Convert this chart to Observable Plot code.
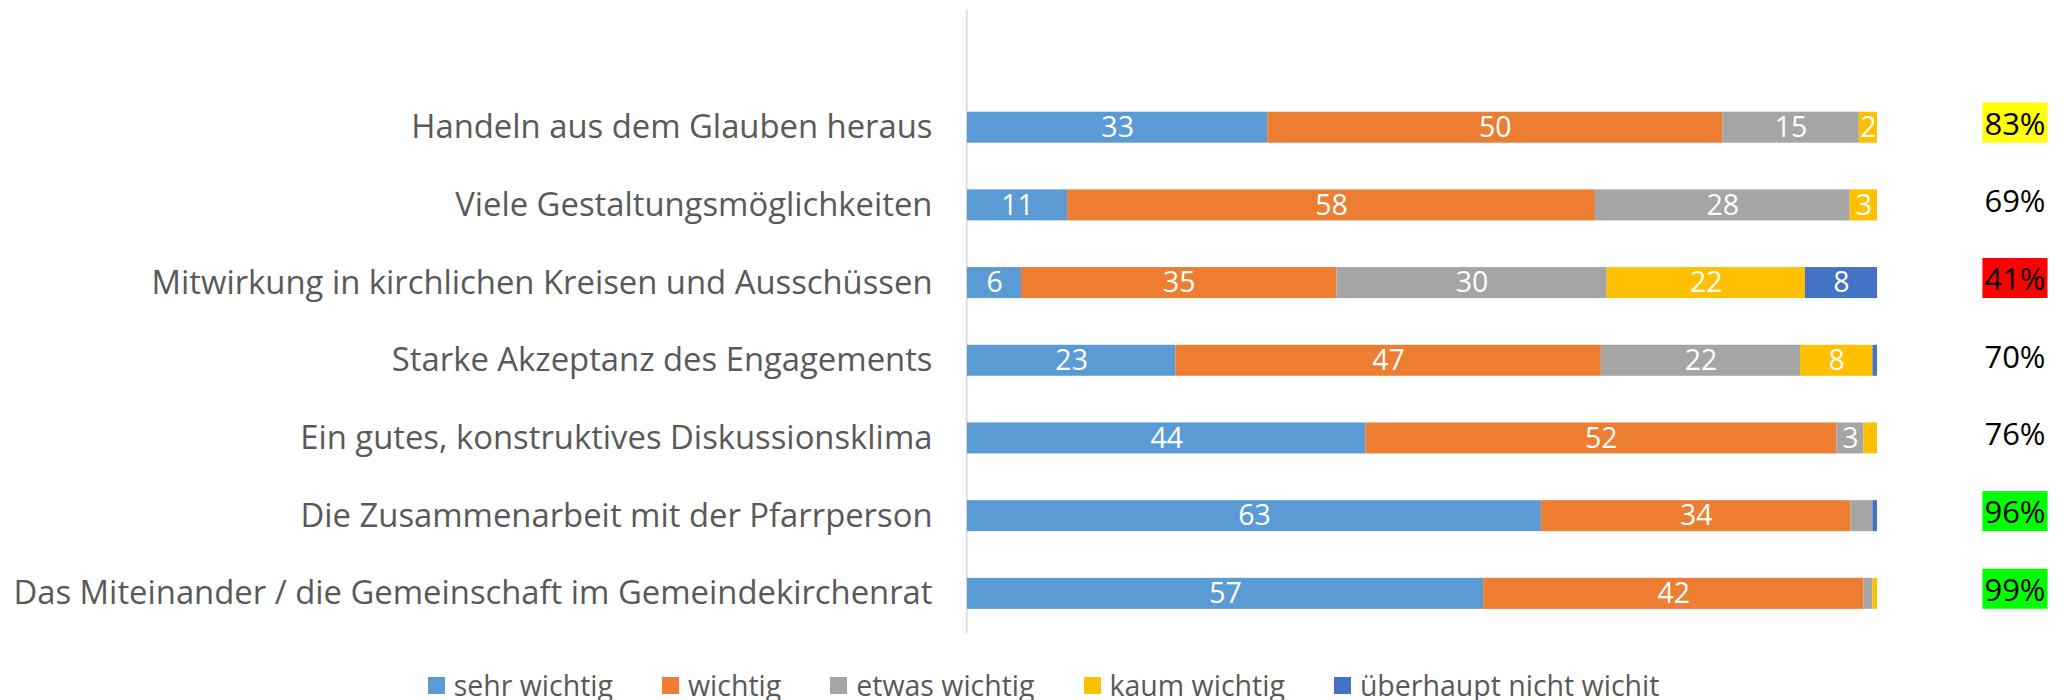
<!DOCTYPE html>
<html>
<head>
<meta charset="utf-8">
<script src="https://cdn.jsdelivr.net/npm/d3@7"></script>
<script src="https://cdn.jsdelivr.net/npm/@observablehq/plot@0.6"></script>
<style>
  html, body { margin: 0; padding: 0; background: #fff; overflow: hidden; }
  body { font-family: "Open Sans", Lato, sans-serif; width: 2067px; }
  #legend { display: flex; justify-content: center; align-items: center; margin-top: 15px; height: 30px; padding-left: 20px; }
  .item { display: flex; align-items: center; margin: 0 24.5px; font-size: 28.5px; color: #595959; }
  .swatch { width: 17px; height: 17px; margin-right: 9px; }
</style>
</head>
<body>
<div id="chart"></div>
<div id="legend"></div>
<script>
// ---- data ----
const categories = [
  "Handeln aus dem Glauben heraus",
  "Viele Gestaltungsmöglichkeiten",
  "Mitwirkung in kirchlichen Kreisen und Ausschüssen",
  "Starke Akzeptanz des Engagements",
  "Ein gutes, konstruktives Diskussionsklima",
  "Die Zusammenarbeit mit der Pfarrperson",
  "Das Miteinander / die Gemeinschaft im Gemeindekirchenrat"
];
const seriesNames = ["sehr wichtig", "wichtig", "etwas wichtig", "kaum wichtig", "überhaupt nicht wichit"];
const sehrWichtig     = [33, 11,  6, 23, 44, 63,  57];
const wichtig         = [50, 58, 35, 47, 52, 34,  42];
const etwasWichtig    = [15, 28, 30, 22,  3, 2.4,  1];
const kaumWichtig     = [ 2,  3, 22,  8, 1.5, 0, 0.5];
const ueberhauptNicht = [ 0,  0,  8, 0.5, 0, 0.5,  0];
const percentLabels   = ["83%", "69%", "41%", "70%", "76%", "96%", "99%"];
const percentHighlight = ["#FFFF00", null, "#FF0000", null, null, "#00FF00", "#00FF00"];
const seriesColors = ["#5B9BD5", "#ED7D31", "#A5A5A5", "#FFC000", "#4472C4"];
const minLabelValue = 2;
const unlabeled = [["Die Zusammenarbeit mit der Pfarrperson", "etwas wichtig"]];

// ---- build table ----
const seriesValues = [sehrWichtig, wichtig, etwasWichtig, kaumWichtig, ueberhauptNicht];
const data = categories.flatMap((c, i) => seriesNames.map((s, j) => ({
  category: c,
  series: s,
  value: seriesValues[j][i],
  show: seriesValues[j][i] >= minLabelValue && !unlabeled.some(([uc, us]) => uc === c && us === s)
})));
const pctData = categories.map((c, i) => ({category: c, pct: percentLabels[i], hl: percentHighlight[i]}));

const FONT = "'Open Sans', Lato, sans-serif";

const chart = Plot.plot({
  width: 2067,
  height: 655,
  marginLeft: 967,
  marginRight: 190,
  marginTop: 10,
  marginBottom: 22,
  style: {fontFamily: FONT, background: "#fff"},
  x: {domain: [0, 1], axis: null},
  y: {domain: categories, paddingInner: 0.601, paddingOuter: 0.81, align: 0.808, round: false, axis: null},
  color: {domain: seriesNames, range: seriesColors},
  marks: [
    Plot.ruleX([0], {stroke: "#D9D9D9", strokeWidth: 1.7, dx: -0.8}),
    Plot.barX(data, Plot.stackX({x: "value", y: "category", fill: "series", order: seriesNames, offset: "normalize"})),
    Plot.text(data, Plot.stackX({
      x: "value", y: "category", z: "series", order: seriesNames, offset: "normalize",
      text: d => d.show ? String(d.value) : "",
      fill: "white", fontSize: 28.5
    })),
    Plot.axisY({tickSize: 0, tickPadding: 35, fontSize: 32.8, fill: "#595959", label: null}),
    Plot.text(pctData, {
      y: "category", text: "pct", frameAnchor: "right", textAnchor: "end",
      dx: 168, dy: -3, fill: "black", fontSize: 31
    })
  ]
});
document.getElementById("chart").appendChild(chart);

// highlight boxes behind the percentage labels
const hlByText = new Map(pctData.map(d => [d.pct, d.hl]));
chart.querySelectorAll("text").forEach(t => {
  if (!t.textContent.endsWith("%")) return;
  const color = hlByText.get(t.textContent);
  if (!color) return;
  const b = t.getBBox();
  const r = document.createElementNS("http://www.w3.org/2000/svg", "rect");
  r.setAttribute("x", b.x - 2);
  r.setAttribute("y", b.y + 1);
  r.setAttribute("width", b.width + 4);
  r.setAttribute("height", b.height - 2);
  r.setAttribute("fill", color);
  if (t.getAttribute("transform")) r.setAttribute("transform", t.getAttribute("transform"));
  t.parentNode.insertBefore(r, t);
});

// legend
const legend = document.getElementById("legend");
seriesNames.forEach((s, i) => {
  const item = document.createElement("div");
  item.className = "item";
  const sw = document.createElement("span");
  sw.className = "swatch";
  sw.style.background = seriesColors[i];
  const lab = document.createElement("span");
  lab.textContent = s;
  item.appendChild(sw);
  item.appendChild(lab);
  legend.appendChild(item);
});
</script>
</body>
</html>
